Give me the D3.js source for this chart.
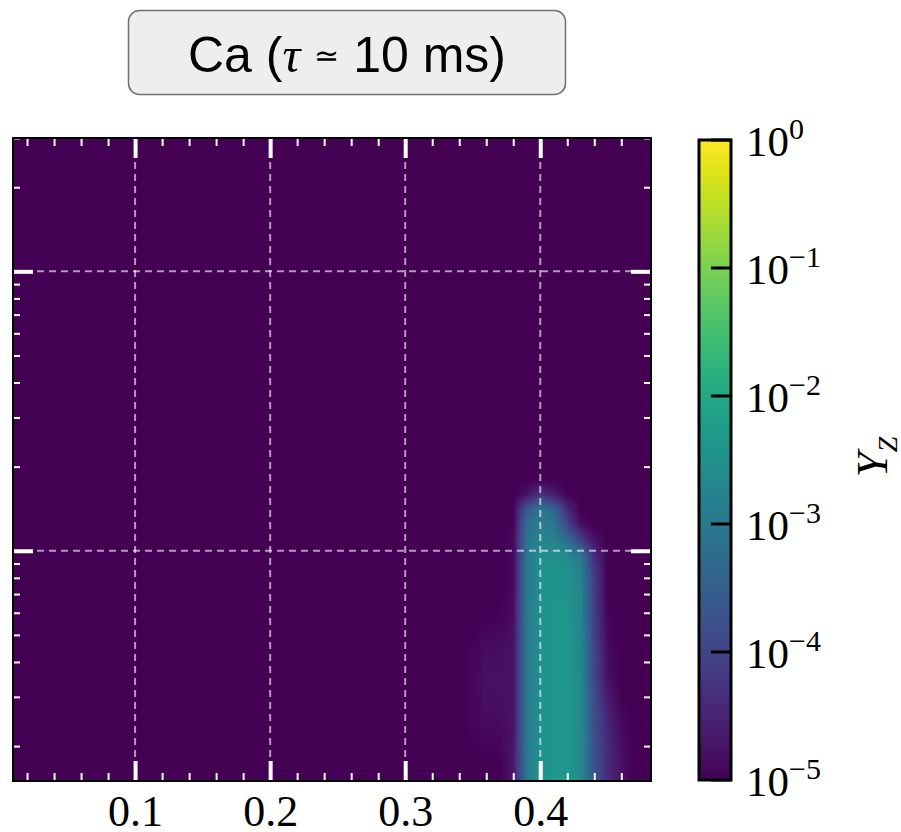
<!DOCTYPE html>
<html>
<head>
<meta charset="utf-8" />
<title>Ca (tau ~ 10 ms)</title>
<script src="https://d3js.org/d3.v7.min.js"></script>
<style>
  body { margin: 0; background: #fff; }
  svg { display: block; }
</style>
</head>
<body>
<div id="container"></div>
<script>
  // cell centres of the Y_Z field (x, y in data units) and log10(Y_Z), rows bottom -> top
  var gridX = [0.33, 0.34, 0.35, 0.36, 0.37, 0.38, 0.39, 0.40, 0.41, 0.42, 0.43, 0.44, 0.45, 0.46, 0.47, 0.48, 0.49];
  var gridY = [0.115, 0.13, 0.15, 0.17, 0.19, 0.22, 0.25, 0.28, 0.32, 0.36, 0.41, 0.46, 0.52,
               0.59, 0.67, 0.76, 0.86, 0.97, 1.1, 1.25, 1.4, 1.6, 1.8, 2.0, 2.3];
  var logYZ = [
    [-5, -5, -5, -5, -5, -4.7, -3.0, -2.45, -2.35, -2.35, -2.65, -3.75, -4.4, -4.8, -5, -5, -5],
    [-5, -5, -5, -5, -5, -4.7, -3.0, -2.45, -2.35, -2.35, -2.65, -3.75, -4.4, -4.8, -5, -5, -5],
    [-5, -5, -5, -5, -5, -4.7, -3.0, -2.45, -2.35, -2.35, -2.65, -3.75, -4.4, -4.8, -5, -5, -5],
    [-5, -5, -5, -5, -5, -4.7, -3.0, -2.45, -2.35, -2.35, -2.65, -3.75, -4.4, -4.8, -5, -5, -5],
    [-5, -5, -5, -4.95, -4.95, -4.7, -3.0, -2.45, -2.35, -2.35, -2.65, -3.75, -4.4, -4.8, -5, -5, -5],
    [-5, -5, -4.95, -4.9, -4.9, -4.75, -3.0, -2.45, -2.35, -2.35, -2.65, -3.8, -4.45, -4.85, -5, -5, -5],
    [-5, -5, -4.9, -4.85, -4.85, -4.75, -3.0, -2.45, -2.35, -2.35, -2.65, -3.85, -4.5, -4.9, -5, -5, -5],
    [-5, -5, -4.9, -4.82, -4.82, -4.75, -3.0, -2.45, -2.35, -2.35, -2.65, -3.85, -4.6, -4.95, -5, -5, -5],
    [-5, -5, -4.9, -4.8, -4.8, -4.75, -3.0, -2.45, -2.35, -2.35, -2.65, -3.9, -4.7, -5, -5, -5, -5],
    [-5, -5, -4.9, -4.8, -4.8, -4.75, -3.0, -2.45, -2.35, -2.35, -2.7, -3.95, -4.8, -5, -5, -5, -5],
    [-5, -5, -4.9, -4.82, -4.82, -4.75, -3.0, -2.45, -2.35, -2.35, -2.7, -3.95, -4.85, -5, -5, -5, -5],
    [-5, -5, -4.95, -4.87, -4.85, -4.78, -3.0, -2.45, -2.35, -2.35, -2.7, -4.0, -4.9, -5, -5, -5, -5],
    [-5, -5, -5, -4.93, -4.9, -4.8, -3.0, -2.45, -2.35, -2.35, -2.75, -4.05, -4.9, -5, -5, -5, -5],
    [-5, -5, -5, -5, -4.95, -4.85, -3.0, -2.45, -2.35, -2.4, -2.75, -4.1, -4.95, -5, -5, -5, -5],
    [-5, -5, -5, -5, -5, -4.85, -3.0, -2.5, -2.4, -2.4, -2.75, -4.1, -5, -5, -5, -5, -5],
    [-5, -5, -5, -5, -5, -4.9, -3.0, -2.5, -2.4, -2.45, -2.8, -4.1, -5, -5, -5, -5, -5],
    [-5, -5, -5, -5, -5, -4.9, -3.0, -2.5, -2.45, -2.5, -2.85, -4.2, -5, -5, -5, -5, -5],
    [-5, -5, -5, -5, -5, -4.9, -3.05, -2.55, -2.55, -2.65, -3.1, -4.4, -5, -5, -5, -5, -5],
    [-5, -5, -5, -5, -5, -4.9, -3.1, -2.75, -2.8, -3.3, -4.1, -4.8, -5, -5, -5, -5, -5],
    [-5, -5, -5, -5, -5, -4.95, -3.25, -2.9, -3.05, -4.0, -4.85, -5, -5, -5, -5, -5, -5],
    [-5, -5, -5, -5, -5, -5, -3.6, -3.05, -3.35, -4.4, -5, -5, -5, -5, -5, -5, -5],
    [-5, -5, -5, -5, -5, -5, -4.8, -4.35, -4.65, -5, -5, -5, -5, -5, -5, -5, -5],
    [-5, -5, -5, -5, -5, -5, -5, -5, -5, -5, -5, -5, -5, -5, -5, -5, -5],
    [-5, -5, -5, -5, -5, -5, -5, -5, -5, -5, -5, -5, -5, -5, -5, -5, -5],
    [-5, -5, -5, -5, -5, -5, -5, -5, -5, -5, -5, -5, -5, -5, -5, -5, -5]
  ];

  var xMajor = [0.1, 0.2, 0.3, 0.4];
  var xLabels = ["0.1", "0.2", "0.3", "0.4"];
  var yMajor = [1, 10];
  var cbarTicks = [1, 1e-1, 1e-2, 1e-3, 1e-4, 1e-5];
  var cbarExp = ["0", "\u22121", "\u22122", "\u22123", "\u22124", "\u22125"];

  var plot = { left: 13, top: 138, right: 651, bottom: 781 };
  var cbar = { left: 699, top: 140, right: 731, bottom: 780 };

  var x = d3.scaleLinear().domain([0.0096, 0.482]).range([plot.left, plot.right]);
  var y = d3.scaleLog().domain([0.15, 30]).range([plot.bottom, plot.top]);
  var color = d3.scaleSequentialLog(d3.interpolateViridis).domain([1e-5, 1]).clamp(true);
  var cy = d3.scaleLog().domain([1e-5, 1]).range([cbar.bottom, cbar.top]);

  var svg = d3.select("#container").append("svg")
    .attr("width", 901).attr("height", 832);

  var defs = svg.append("defs");
  defs.append("clipPath").attr("id", "plotclip").append("rect")
    .attr("x", plot.left).attr("y", plot.top)
    .attr("width", plot.right - plot.left).attr("height", plot.bottom - plot.top);

  // title box
  svg.append("rect")
    .attr("x", 128.5).attr("y", 10.5).attr("width", 437).attr("height", 84)
    .attr("rx", 11).attr("fill", "#eeeeee").attr("stroke", "#707070").attr("stroke-width", 1.5);
  var title = svg.append("text")
    .attr("x", 347).attr("y", 72)
    .attr("text-anchor", "middle")
    .style("font-family", "'Liberation Sans', Arial, sans-serif")
    .style("font-size", "50px");
  title.append("tspan").text("Ca (");
  title.append("tspan").style("font-family", "'Liberation Serif', serif")
    .style("font-style", "italic").text("\u03c4");
  title.append("tspan").text(" ");
  title.append("tspan").style("font-size", "30px").attr("dy", -6).text("\u2243");
  title.append("tspan").attr("dy", 6).text(" 10 ms)");

  // heatmap: bilinear shading of the grid (like imshow interpolation="bilinear")
  var W = plot.right - plot.left, H = plot.bottom - plot.top;
  var canvas = document.createElement("canvas");
  canvas.width = W;
  canvas.height = H;
  var ctx = canvas.getContext("2d");
  var img = ctx.createImageData(W, H);
  var logGridY = gridY.map(Math.log10);
  var lut = d3.range(0, 1001).map(function (k) {
    return d3.rgb(color(Math.pow(10, -5 + k * 0.005)));
  });

  function fracIndex(arr, v) {
    if (v <= arr[0]) return 0;
    for (var k = 0; k < arr.length - 1; k++) {
      if (v <= arr[k + 1]) return k + (v - arr[k]) / (arr[k + 1] - arr[k]);
    }
    return arr.length - 1;
  }
  function cellValue(fi, fj) {
    var i0 = Math.floor(fi), j0 = Math.floor(fj);
    var i1 = Math.min(i0 + 1, gridY.length - 1), j1 = Math.min(j0 + 1, gridX.length - 1);
    var ti = fi - i0, tj = fj - j0;
    var a = logYZ[i0][j0] * (1 - tj) + logYZ[i0][j1] * tj;
    var b = logYZ[i1][j0] * (1 - tj) + logYZ[i1][j1] * tj;
    return a * (1 - ti) + b * ti;
  }

  var colIdx = d3.range(W).map(function (c) {
    return fracIndex(gridX, x.invert(plot.left + c + 0.5));
  });
  for (var r = 0; r < H; r++) {
    var fi = fracIndex(logGridY, Math.log10(y.invert(plot.top + r + 0.5)));
    for (var c = 0; c < W; c++) {
      var v = cellValue(fi, colIdx[c]);
      var k = Math.max(0, Math.min(1000, Math.round((v + 5) / 0.005)));
      var p = (r * W + c) * 4;
      img.data[p] = lut[k].r;
      img.data[p + 1] = lut[k].g;
      img.data[p + 2] = lut[k].b;
      img.data[p + 3] = 255;
    }
  }
  ctx.putImageData(img, 0, 0);

  var plotArea = svg.append("g").attr("clip-path", "url(#plotclip)");
  plotArea.append("image")
    .attr("x", plot.left).attr("y", plot.top)
    .attr("width", W).attr("height", H)
    .attr("preserveAspectRatio", "none")
    .attr("href", canvas.toDataURL());

  // dashed grid
  var grid = svg.append("g")
    .attr("stroke", "rgba(255,255,255,0.6)")
    .attr("stroke-width", 2)
    .attr("stroke-dasharray", "7,5");
  grid.selectAll(".gx").data(xMajor).enter().append("line")
    .attr("x1", function (d) { return x(d); }).attr("x2", function (d) { return x(d); })
    .attr("y1", plot.top).attr("y2", plot.bottom);
  grid.selectAll(".gy").data(yMajor).enter().append("line")
    .attr("y1", function (d) { return y(d); }).attr("y2", function (d) { return y(d); })
    .attr("x1", plot.left).attr("x2", plot.right);

  // ticks (inward, white, on all four sides)
  var xMinor = x.ticks(24).filter(function (d) {
    return d < 0.47 && xMajor.every(function (m) { return Math.abs(m - d) > 1e-9; });
  });
  var yMinor = y.ticks().filter(function (d) { return yMajor.indexOf(d) < 0; });

  function tickAxis(axis, pos, values, len, w) {
    var g = svg.append("g").attr("transform", pos)
      .call(axis.tickValues(values).tickSizeInner(-len).tickSizeOuter(0).tickFormat(""));
    g.select(".domain").remove();
    g.selectAll(".tick line").attr("stroke", "#fff").attr("stroke-width", w);
    return g;
  }
  tickAxis(d3.axisBottom(x), "translate(0," + plot.bottom + ")", xMinor, 8, 2);
  tickAxis(d3.axisTop(x), "translate(0," + plot.top + ")", xMinor, 8, 2);
  tickAxis(d3.axisTop(x), "translate(0," + plot.top + ")", xMajor, 20, 4);
  tickAxis(d3.axisLeft(y), "translate(" + plot.left + ",0)", yMinor, 7, 2);
  tickAxis(d3.axisRight(y), "translate(" + plot.right + ",0)", yMinor, 7, 2);
  tickAxis(d3.axisLeft(y), "translate(" + plot.left + ",0)", yMajor, 20, 4);
  tickAxis(d3.axisRight(y), "translate(" + plot.right + ",0)", yMajor, 20, 4);

  var xAxis = svg.append("g").attr("transform", "translate(0," + plot.bottom + ")")
    .call(d3.axisBottom(x).tickValues(xMajor).tickSizeInner(-20).tickSizeOuter(0)
      .tickPadding(14).tickFormat(function (d, k) { return xLabels[k]; }));
  xAxis.select(".domain").remove();
  xAxis.selectAll(".tick line").attr("stroke", "#fff").attr("stroke-width", 4);
  xAxis.selectAll(".tick text")
    .attr("fill", "#000")
    .style("font-family", "'Liberation Serif', 'DejaVu Serif', serif")
    .style("font-size", "44px");

  // frame
  svg.append("rect")
    .attr("x", plot.left).attr("y", plot.top)
    .attr("width", plot.right - plot.left).attr("height", plot.bottom - plot.top)
    .attr("fill", "none").attr("stroke", "#000").attr("stroke-width", 2);

  // colorbar
  var grad = defs.append("linearGradient").attr("id", "viridis")
    .attr("x1", 0).attr("y1", 1).attr("x2", 0).attr("y2", 0);
  d3.range(0, 1.0001, 0.05).forEach(function (t) {
    grad.append("stop").attr("offset", t).attr("stop-color", d3.interpolateViridis(t));
  });
  svg.append("rect")
    .attr("x", cbar.left).attr("y", cbar.top)
    .attr("width", cbar.right - cbar.left).attr("height", cbar.bottom - cbar.top)
    .attr("fill", "url(#viridis)").attr("stroke", "#000").attr("stroke-width", 3);

  svg.append("g").selectAll("line").data(cbarTicks).enter().append("line")
    .attr("x1", cbar.right - 20).attr("x2", cbar.right)
    .attr("y1", function (d) { return cy(d); }).attr("y2", function (d) { return cy(d); })
    .attr("stroke", "#000").attr("stroke-width", 3);

  var cLabels = svg.append("g")
    .style("font-family", "'Liberation Serif', 'DejaVu Serif', serif")
    .selectAll("text").data(cbarTicks).enter().append("text")
    .attr("x", 746)
    .attr("y", function (d) { return cy(d) + 16; })
    .style("font-size", "43px");
  cLabels.append("tspan").text("10");
  cLabels.append("tspan").attr("dy", -17).style("font-size", "30px")
    .text(function (d, k) { return cbarExp[k]; });

  var zlab = svg.append("text")
    .attr("transform", "translate(887,457) rotate(-90)")
    .attr("text-anchor", "middle")
    .style("font-family", "'Liberation Serif', 'DejaVu Serif', serif")
    .style("font-style", "italic")
    .style("font-size", "45px");
  zlab.append("tspan").text("Y");
  zlab.append("tspan").attr("dy", 10).style("font-size", "28px").text("Z");
</script>
</body>
</html>
